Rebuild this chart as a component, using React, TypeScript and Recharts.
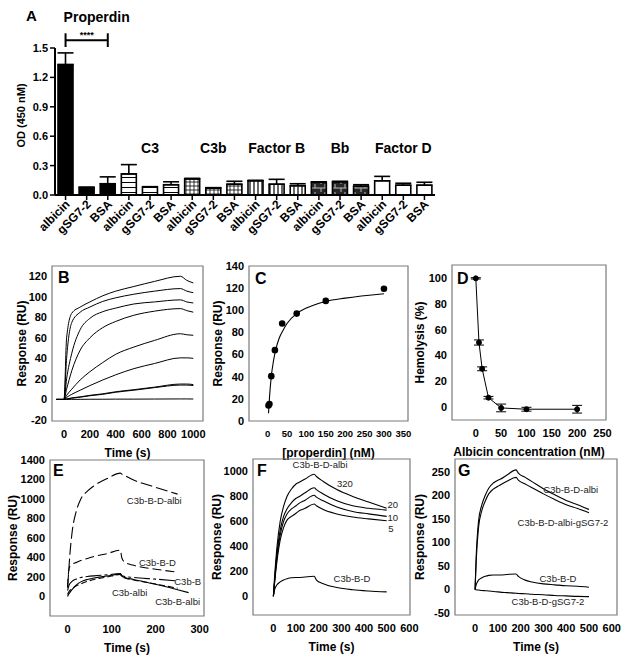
import React from "react";
import {
  BarChart, Bar, XAxis, YAxis, Cell, ErrorBar, ReferenceLine, ReferenceDot,
  ComposedChart, Line, Scatter, ReferenceArea,
} from "recharts";

const FONT = "'Liberation Sans', Arial, sans-serif";

// ---- A: ELISA binding ----
const barLabels = [
  "albicin", "gSG7-2", "BSA", "albicin", "gSG7-2", "BSA", "albicin", "gSG7-2", "BSA",
  "albicin", "gSG7-2", "BSA", "albicin", "gSG7-2", "BSA", "albicin", "gSG7-2", "BSA",
];
const barGroups = [
  "prop", "prop", "prop", "c3", "c3", "c3", "c3b", "c3b", "c3b",
  "fb", "fb", "fb", "bb", "bb", "bb", "fd", "fd", "fd",
];
const groupTitles = ["Properdin", "C3", "C3b", "Factor B", "Bb", "Factor D"];
const odValues = [1.33, 0.075, 0.115, 0.215, 0.08, 0.105, 0.165, 0.07, 0.11, 0.145, 0.11, 0.095, 0.13, 0.135, 0.09, 0.145, 0.1, 0.1];
const odErrors = [0.12, 0.005, 0.07, 0.095, 0.005, 0.03, 0.005, 0.005, 0.03, 0.005, 0.05, 0.02, 0.005, 0.005, 0.015, 0.045, 0.02, 0.03];
const odTicks = [0, 0.3, 0.6, 0.9, 1.2, 1.5];

// ---- B: SPR properdin sensorgrams ----
const tB = [-60, 0, 20, 60, 125, 200, 300, 400, 540, 700, 900, 950, 1000];
const bCurves = [
  [0, 0, 60, 84, 90, 95, 101, 105.5, 110, 115, 120, 116, 113.5],
  [0, 0, 40, 75, 85, 90, 95.5, 99, 102.5, 105.5, 108, 105.5, 104],
  [0, 0, 20, 45, 68, 79, 85.5, 89, 93, 95, 97, 95, 94],
  [0, 0, 10, 28, 48, 60, 70, 76, 82, 86, 88.5, 86.5, 85],
  [0, 0, 4, 10, 19, 27, 36, 44, 51, 57.5, 64, 63, 62.5],
  [0, 0, 2, 5, 9, 13.5, 19, 24, 30, 35, 40.5, 40.5, 40],
  [0, 0, 0.5, 1.5, 2.5, 4, 5.5, 7.5, 9.5, 12, 15, 15, 14.5],
  [0, 0, 0.4, 1.2, 2.2, 3.6, 5, 7, 9, 11.5, 14, 14, 13.5],
  [0, 0, 0, 0.1, 0.1, 0.2, 0.2, 0.3, 0.3, 0.4, 0.5, 0.5, 0.4],
];

// ---- C: steady-state binding ----
const cConc = [2.3, 4.7, 9.4, 18.75, 37.5, 75, 150, 300];
const cResp = [14, 15.3, 40.5, 64, 88, 97, 108.5, 119.5];
const cFitConc = [2.3, 5, 9.4, 15, 20, 30, 40, 50, 75, 100, 150, 200, 300];
const cFitResp = [7, 22, 40, 54, 63, 75, 82, 88, 97, 102, 108, 111, 115];

// ---- D: hemolysis ----
const dConc = [0, 6.25, 12.5, 25, 50, 100, 200];
const dLysis = [100, 50, 29.5, 7, -1, -2, -2];
const dErr = [0.5, 2, 1.5, 1, 3, 1.5, 3];

// ---- E: convertase assembly ----
const tE = [0, 2, 5, 10, 20, 30, 45, 60, 90, 120, 123, 130, 150, 200, 250, 275];
const eAlbiD = [100, 220, 420, 650, 880, 1000, 1080, 1135, 1210, 1265, 1255, 1240, 1195, 1120, 1050, null];
const eBD = [90, 240, 310, 330, 350, 370, 390, 410, 440, 475, 400, 350, 320, 280, 250, null];
const eB = [60, 100, 130, 155, 180, 195, 205, 212, 222, 235, 215, 205, 195, 178, 160, null];
const eAlbi = [20, 40, 60, 80, 110, 130, 155, 175, 200, 225, 205, 190, 170, 128, 85, null];
const eBAlbi = [0, 20, 40, 70, 120, 150, 175, 190, 210, 230, 210, 195, 175, 125, 70, 40];

// ---- F: albicin titration ----
const tF = [0, 5, 15, 30, 45, 60, 80, 100, 110, 140, 180, 190, 220, 280, 350, 420, 500];
const f320 = [0, 150, 380, 600, 720, 800, 860, 900, 910, 940, 978, 960, 920, 855, 800, 755, 705];
const f20 = [0, 120, 330, 530, 640, 700, 750, 785, 795, 830, 870, 855, 820, 765, 725, 705, 690];
const f10 = [0, 110, 300, 490, 600, 660, 700, 725, 740, 770, 810, 795, 765, 715, 680, 660, 640];
const f5 = [0, 100, 270, 450, 550, 610, 640, 665, 680, 705, 740, 725, 695, 660, 635, 620, 605];
const fBD = [0, 50, 90, 115, 130, 140, 148, 150, 150, 155, 160, 130, 100, 70, 52, 42, 35];

// ---- G: gSG7-2 inhibition ----
const tG = [0, 5, 15, 30, 45, 60, 80, 100, 110, 140, 180, 190, 220, 250, 300, 350, 400, 450, 500];
const gAlbi = [0, 70, 144, 180, 200, 215, 226, 232, 234, 243, 254, 247, 238, 229, 214, 201, 189, 180, 170];
const gAlbiG = [0, 60, 130, 168, 188, 203, 213, 219, 222, 230, 238, 232, 224, 216, 203, 191, 180, 172, 163];
const gBD = [0, 10, 20, 25, 28, 30, 31, 31, 31, 32, 33, 28, 20, 16, 12, 10, 8, 7, 5];
const gBDg = [0, -0.5, -1, -2, -2.5, -3, -4, -5, -5.5, -6.5, -8, -8.3, -9, -10, -11, -12.5, -13.5, -14.5, -15];

const barRows = barLabels.map((label, i) => ({
  id: `${barGroups[i]}-${label}`,
  label,
  group: barGroups[i],
  od: odValues[i],
  err: [0, odErrors[i]],
}));

const groupFill: Record<string, string> = {
  prop: "#000",
  c3: "url(#hlines)",
  c3b: "url(#grid)",
  fb: "url(#vlines)",
  bb: "url(#brick)",
  fd: "#fff",
};

const tickStyle = { fontSize: 11, fontWeight: "bold", fill: "#000", fontFamily: FONT };
const axisTitle = { fontSize: 12, fontWeight: "bold", fill: "#000", fontFamily: FONT };
const note = { fontSize: 9.5, fill: "#222", fontFamily: FONT };

const rows = (xs: number[], series: Record<string, (number | null)[]>, key = "t") =>
  xs.map((x, i) => {
    const r: Record<string, number | null> = { [key]: x };
    Object.keys(series).forEach((k) => (r[k] = series[k][i]));
    return r;
  });

const RotTick = ({ x, y, payload }: any) => {
  const label = barRows.find((r) => r.id === payload.value)?.label ?? "";
  return (
    <g transform={`translate(${x + 5},${y + 3})`}>
      <text textAnchor="end" transform="rotate(-45)" fontSize={12} fontWeight="bold" fontFamily={FONT} fill="#000">
        {label}
      </text>
    </g>
  );
};

const Letter = ({ ch, x, y, size = 16 }: { ch: string; x: number; y: number; size?: number }) => (
  <span style={{ position: "absolute", left: x, top: y, fontSize: size, lineHeight: 1, fontWeight: "bold", fontFamily: FONT }}>
    {ch}
  </span>
);

function Panel(props: any) {
  const { left, top, width, height, yW, xDomain, yDomain, xTicks, yTicks, xLabel, yLabel, yLabelAt, data, xKey = "t", xTickFont = 11, children } = props;
  return (
    <div style={{ position: "absolute", left, top }}>
      <ComposedChart width={width} height={height} data={data} margin={{ top: 10, right: 10, left: 0, bottom: 0 }}>
        <XAxis
          type="number" dataKey={xKey} domain={xDomain} ticks={xTicks} allowDataOverflow interval={0}
          axisLine={false} tickLine={false} tick={{ ...tickStyle, fontSize: xTickFont }} height={40} tickMargin={3}
          label={{ value: xLabel, position: "insideBottom", offset: 4, ...axisTitle }}
        />
        <YAxis
          type="number" domain={yDomain} ticks={yTicks} allowDataOverflow interval={0}
          axisLine={false} tickLine={false} tick={tickStyle} width={yW} tickSize={4} tickMargin={1}
          label={{ value: yLabel, angle: -90, position: "insideLeft", offset: yLabelAt, ...axisTitle, style: { textAnchor: "middle" } }}
        />
        <ReferenceArea x1={xDomain[0]} x2={xDomain[1]} y1={yDomain[0]} y2={yDomain[1]} fill="none" stroke="#7a7a7a" strokeWidth={1.2} ifOverflow="visible" />
        {children}
      </ComposedChart>
    </div>
  );
}

const Note = ({ x, y, text }: { x: number; y: number; text: string }) => (
  <ReferenceDot x={x} y={y} r={0} ifOverflow="visible" label={{ value: text, position: "center", ...note }} />
);

export default function App() {
  const bData = rows(tB, Object.fromEntries(bCurves.map((c, i) => [`c${i}`, c])));
  const cPoints = cConc.map((x, i) => ({ t: x, y: cResp[i] }));
  const cFit = cFitConc.map((x, i) => ({ t: x, y: cFitResp[i] }));
  const dData = dConc.map((x, i) => ({ t: x, y: dLysis[i], err: dErr[i] }));
  const eData = rows(tE, { albiD: eAlbiD, bd: eBD, b: eB, albi: eAlbi, bAlbi: eBAlbi });
  const fData = rows(tF, { c320: f320, c20: f20, c10: f10, c5: f5, bd: fBD });
  const gData = rows(tG, { albi: gAlbi, albiG: gAlbiG, bd: gBD, bdg: gBDg });

  const line = (key: string, extra: any = {}) => (
    <Line key={key} dataKey={key} type="monotone" stroke="#000" strokeWidth={1.1} dot={false} isAnimationActive={false} connectNulls={false} {...extra} />
  );

  return (
    <div style={{ position: "absolute", left: 0, top: 0, width: 625, height: 659, background: "#fff", fontFamily: FONT }}>
      {/* A */}
      <div style={{ position: "absolute", left: 0, top: 0 }}>
        <BarChart width={450} height={255} data={barRows} margin={{ top: 48, right: 15, left: 0, bottom: 0 }} barSize={15}>
          <defs>
            <pattern id="hlines" width="5" height="5" patternUnits="userSpaceOnUse">
              <rect width="5" height="5" fill="#fff" />
              <line x1="0" y1="2.5" x2="5" y2="2.5" stroke="#000" strokeWidth="1" />
            </pattern>
            <pattern id="grid" width="4" height="4" patternUnits="userSpaceOnUse">
              <rect width="4" height="4" fill="#fff" />
              <line x1="0" y1="2" x2="4" y2="2" stroke="#000" strokeWidth="0.8" />
              <line x1="2" y1="0" x2="2" y2="4" stroke="#000" strokeWidth="0.8" />
            </pattern>
            <pattern id="vlines" width="4" height="4" patternUnits="userSpaceOnUse">
              <rect width="4" height="4" fill="#fff" />
              <line x1="2" y1="0" x2="2" y2="4" stroke="#000" strokeWidth="1.2" />
            </pattern>
            <pattern id="brick" width="10" height="8" patternUnits="userSpaceOnUse">
              <rect width="10" height="8" fill="#262626" />
              <line x1="0" y1="4" x2="10" y2="4" stroke="#bbb" strokeWidth="1" />
              <line x1="5" y1="0" x2="5" y2="4" stroke="#bbb" strokeWidth="1" />
              <line x1="1" y1="4" x2="1" y2="8" stroke="#bbb" strokeWidth="1" />
            </pattern>
          </defs>
          <XAxis
            dataKey="id" interval={0} height={60} tick={<RotTick />}
            axisLine={{ stroke: "#000", strokeWidth: 2 }} tickLine={{ stroke: "#000", strokeWidth: 1.5 }} tickSize={5}
          />
          <YAxis
            domain={[0, 1.5]} ticks={odTicks} width={55} allowDataOverflow
            tickFormatter={(v: number) => v.toFixed(1)}
            axisLine={{ stroke: "#000", strokeWidth: 2 }} tickLine={{ stroke: "#000", strokeWidth: 1.5 }} tickSize={5} tickMargin={2}
            tick={{ fontSize: 11, fontWeight: "bold", fill: "#000", fontFamily: FONT }}
            label={{ value: "OD (450 nM)", angle: -90, position: "insideLeft", offset: 21, dy: -6, fontSize: 11, fontWeight: "bold", fill: "#000", fontFamily: FONT, style: { textAnchor: "middle" } }}
          />
          <Bar dataKey="od" stroke="#000" strokeWidth={1.6} isAnimationActive={false}>
            {barRows.map((r) => (
              <Cell key={r.id} fill={groupFill[r.group]} />
            ))}
            <ErrorBar dataKey="err" width={8} stroke="#000" strokeWidth={1.6} direction="y" />
          </Bar>
          <ReferenceLine segment={[{ x: barRows[0].id, y: 1.58 }, { x: barRows[2].id, y: 1.58 }]} stroke="#000" strokeWidth={2} ifOverflow="visible" />
          <ReferenceLine segment={[{ x: barRows[0].id, y: 1.51 }, { x: barRows[0].id, y: 1.65 }]} stroke="#000" strokeWidth={2} ifOverflow="visible" />
          <ReferenceLine segment={[{ x: barRows[2].id, y: 1.51 }, { x: barRows[2].id, y: 1.65 }]} stroke="#000" strokeWidth={2} ifOverflow="visible" />
          <ReferenceDot x={barRows[1].id} y={1.63} r={0} ifOverflow="visible" label={{ value: "****", position: "center", fontSize: 9, fontWeight: "bold", fill: "#000", fontFamily: FONT }} />
          {groupTitles.map((g, i) => (
            <ReferenceDot
              key={g} x={barRows[i * 3 + 1].id} y={i === 0 ? 1.82 : 0.48} r={0} ifOverflow="visible"
              label={{ value: g, position: "center", dx: i === 0 ? 10 : 0, fontSize: 14, fontWeight: "bold", fill: "#000", fontFamily: FONT }}
            />
          ))}
        </BarChart>
      </div>

      {/* B */}
      <Panel left={0} top={256} width={213} height={205} yW={52} data={bData}
        xDomain={[-93, 1075]} yDomain={[-21, 130]} xTicks={[0, 200, 400, 600, 800, 1000]} yTicks={[-20, 0, 20, 40, 60, 80, 100, 120]}
        xLabel="Time (s)" yLabel="Response (RU)" yLabelAt={22}>
        {bCurves.map((_, i) => line(`c${i}`, { strokeWidth: 1 }))}
      </Panel>

      {/* C */}
      <Panel left={199} top={256} width={219} height={205} yW={50} xTickFont={9.5}
        xDomain={[-48, 362]} yDomain={[0, 140]} xTicks={[0, 50, 100, 150, 200, 250, 300, 350]} yTicks={[0, 20, 40, 60, 80, 100, 120, 140]}
        xLabel="[properdin] (nM)" yLabel="Response (RU)" yLabelAt={19}>
        <Line data={cFit} dataKey="y" type="monotone" stroke="#000" strokeWidth={1.1} dot={false} isAnimationActive={false} />
        <Scatter data={cPoints} dataKey="y" fill="#000" isAnimationActive={false}
          shape={(p: any) => <circle cx={p.cx} cy={p.cy} r={3.3} fill="#000" />} />
      </Panel>

      {/* D */}
      <Panel left={402} top={255} width={214} height={205} yW={50} data={dData}
        xDomain={[-47, 257]} yDomain={[-10.4, 110.4]} xTicks={[0, 50, 100, 150, 200, 250]} yTicks={[0, 20, 40, 60, 80, 100]}
        xLabel="Albicin concentration (nM)" yLabel="Hemolysis (%)" yLabelAt={18}>
        <Line dataKey="y" type="linear" stroke="#000" strokeWidth={1} isAnimationActive={false}
          dot={{ r: 2.5, fill: "#000", stroke: "#000" }}>
          <ErrorBar dataKey="err" width={5} stroke="#000" strokeWidth={1} direction="y" />
        </Line>
      </Panel>

      {/* E */}
      <Panel left={0} top={450} width={214} height={206} yW={50} data={eData}
        xDomain={[-40, 310]} yDomain={[-200, 1400]} xTicks={[0, 100, 200, 300]} yTicks={[0, 200, 400, 600, 800, 1000, 1200, 1400]}
        xLabel="Time (s)" yLabel="Response (RU)" yLabelAt={13}>
        {line("albiD", { strokeDasharray: "12 4" })}
        {line("bd", { strokeDasharray: "9 4" })}
        {line("b", { strokeDasharray: "16 3 3 3" })}
        {line("albi", { strokeDasharray: "6 3" })}
        {line("bAlbi")}
        <Note x={197} y={982} text="C3b-B-D-albi" />
        <Note x={204} y={350} text="C3b-B-D" />
        <Note x={273} y={156} text="C3b-B" />
        <Note x={141} y={44} text="C3b-albi" />
        <Note x={250} y={-48} text="C3b-B-albi" />
      </Panel>

      {/* F */}
      <Panel left={203} top={449} width={217} height={206} yW={50} data={fData}
        xDomain={[-90, 603]} yDomain={[-150, 1100]} xTicks={[0, 100, 200, 300, 400, 500, 600]} yTicks={[0, 200, 400, 600, 800, 1000]}
        xLabel="Time (s)" yLabel="Response (RU)" yLabelAt={14}>
        {line("c320")}
        {line("c20")}
        {line("c10")}
        {line("c5")}
        {line("bd")}
        <Note x={206} y={1054} text="C3b-B-D-albi" />
        <Note x={316} y={902} text="320" />
        <Note x={527} y={736} text="20" />
        <Note x={527} y={632} text="10" />
        <Note x={519} y={545} text="5" />
        <Note x={347} y={141} text="C3b-B-D" />
      </Panel>

      {/* G */}
      <Panel left={405} top={449} width={222} height={206} yW={50} data={gData}
        xDomain={[-88, 623]} yDomain={[-54, 277]} xTicks={[0, 100, 200, 300, 400, 500, 600]} yTicks={[-50, 0, 50, 100, 150, 200, 250]}
        xLabel="Time (s)" yLabel="Response (RU)" yLabelAt={15}>
        {line("albi")}
        {line("albiG")}
        {line("bd")}
        {line("bdg")}
        <Note x={420} y={213} text="C3b-B-D-albi" />
        <Note x={386} y={141} text="C3b-B-D-albi-gSG7-2" />
        <Note x={364} y={23} text="C3b-B-D" />
        <Note x={320} y={-25} text="C3b-B-D-gSG7-2" />
      </Panel>

      <Letter ch="A" x={26} y={8} size={15} />
      <Letter ch="B" x={58} y={270} />
      <Letter ch="C" x={255} y={271} />
      <Letter ch="D" x={457} y={271} />
      <Letter ch="E" x={53} y={463} />
      <Letter ch="F" x={257} y={463} />
      <Letter ch="G" x={458} y={463} />
    </div>
  );
}
